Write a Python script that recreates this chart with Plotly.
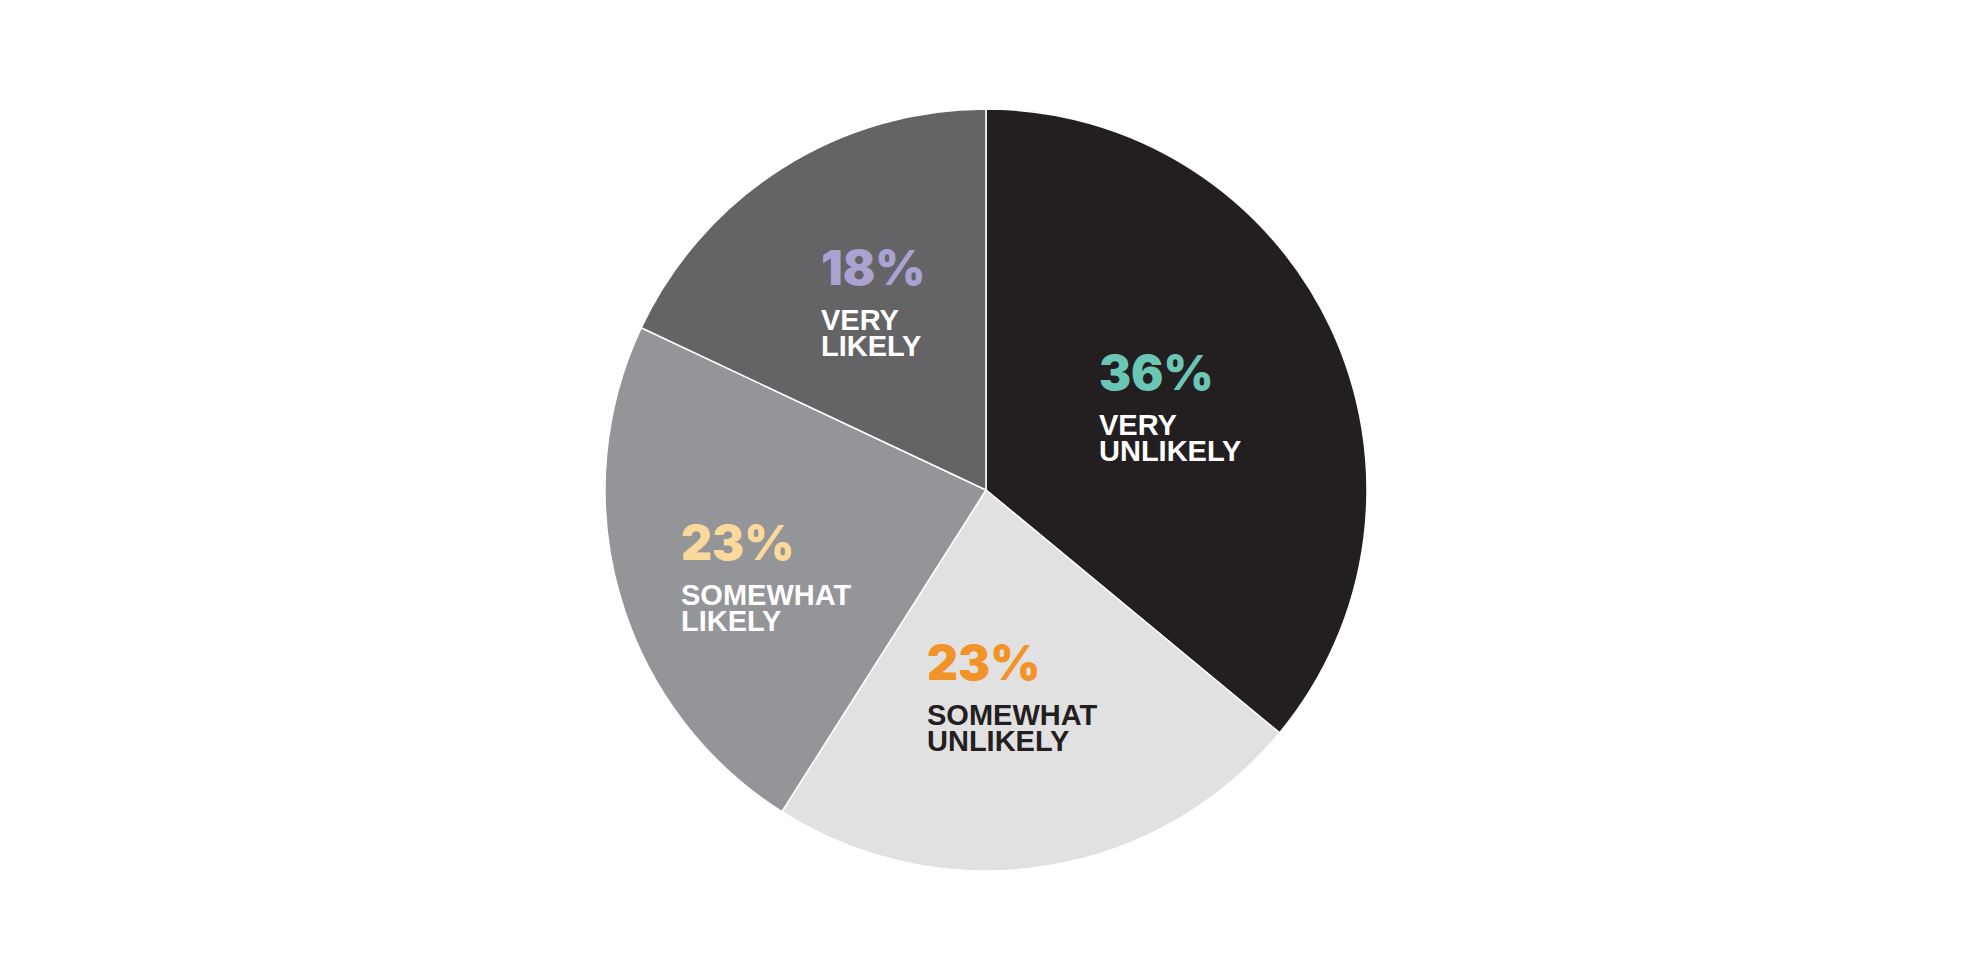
import plotly.graph_objects as go

# data
categories = ["Very unlikely", "Somewhat unlikely", "Somewhat likely", "Very likely"]
shares = [36, 23, 23, 18]
label_lines = [["VERY", "UNLIKELY"], ["SOMEWHAT", "UNLIKELY"], ["SOMEWHAT", "LIKELY"], ["VERY", "LIKELY"]]

slice_colors = ["#231f20", "#e1e1e1", "#939598", "#646467"]
pct_colors = ["#6cc6b6", "#f29328", "#fbd89b", "#aaa3d2"]
text_colors = ["#ffffff", "#231f20", "#ffffff", "#ffffff"]

W, H = 1971, 979
# page body has an 8px margin, so figure coords = page coords - 8
OFF = 8
# label anchor (left x, cap-middle y of the percent line) in page pixels
label_pos = [(1099, 374), (927, 664), (681, 544), (821, 269)]
PCT_SHIFT = -2   # small tweak for percent glyph centring
PCT_GAP = 51     # from percent middle to first text line middle
LINE_GAP = 26    # between text lines

cx, cy, r = 986 - OFF, 490 - OFF, 381

fig = go.Figure(
    go.Pie(
        labels=categories,
        values=shares,
        sort=False,
        direction="clockwise",
        rotation=0,
        textinfo="none",
        hoverinfo="label+percent",
        marker=dict(colors=slice_colors, line=dict(color="#ffffff", width=1.5)),
        domain=dict(x=[(cx - r) / W, (cx + r) / W],
                    y=[(H - cy - r) / H, (H - cy + r) / H]),
        showlegend=False,
    )
)


def px_to_paper(x, y):
    return (x - OFF) / W, (H - (y - OFF)) / H


annotations = []
for i, share in enumerate(shares):
    x0, y0 = label_pos[i]
    px_, py_ = px_to_paper(x0 - 2, y0 + PCT_SHIFT)
    annotations.append(dict(
        x=px_, y=py_, xref="paper", yref="paper", xanchor="left", yanchor="middle",
        text=f"{share}%", showarrow=False,
        font=dict(family="Inter, DejaVu Sans", size=48, weight=900, color=pct_colors[i]),
    ))
    for j, line in enumerate(label_lines[i]):
        lx, ly = px_to_paper(x0 - 2, y0 + PCT_GAP + j * LINE_GAP)
        annotations.append(dict(
            x=lx, y=ly, xref="paper", yref="paper", xanchor="left", yanchor="middle",
            text=line, showarrow=False,
            font=dict(family="Liberation Sans, Arial", size=29, weight="bold", color=text_colors[i]),
        ))

fig.update_layout(
    width=W,
    height=H,
    margin=dict(l=0, r=0, t=0, b=0),
    paper_bgcolor="#ffffff",
    plot_bgcolor="#ffffff",
    annotations=annotations,
)

fig.write_html("out.html")
